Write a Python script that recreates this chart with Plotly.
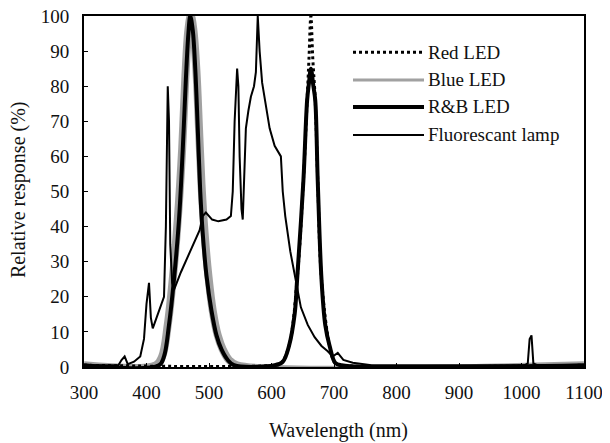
import plotly.graph_objects as go

# ---- data ----
lamp_x = [300, 355, 360, 365, 370, 380, 390, 396, 400, 404, 407, 410, 416, 422, 428, 431, 434, 436, 438, 441,
          444, 455, 465, 475, 485, 490, 495, 505, 515, 528, 535, 538, 541, 545, 547, 549, 552, 554, 556, 559,
          563, 567, 572, 575, 578, 581, 585, 590, 597, 605, 612, 615, 618, 622, 630, 639, 647, 658, 669, 680,
          690, 698, 706, 715, 730, 760, 1005, 1010, 1013, 1016, 1019, 1025, 1100]
lamp_y = [0.5, 0.5, 2, 3, 0.8, 1.5, 3, 8, 18, 24, 14, 11, 14, 17, 20, 40, 80, 70, 35, 24,
          22, 27, 31, 35, 39, 43, 44, 42, 41.5, 42, 43, 50, 70, 85, 80, 60, 45, 42, 55, 68,
          73, 77, 80, 84, 100, 90, 81, 76, 68, 63, 61, 60, 50, 43, 33, 24, 17, 12, 8.5, 6,
          4.5, 3, 4, 2, 1.2, 0.5, 0.5, 1, 8, 9, 1, 0.5, 0.5]

blue_x = [300, 415, 425, 434, 442, 450, 457, 462, 467, 471, 475, 480, 484, 488, 493, 499, 506, 514, 522, 532, 545, 1100]
blue_y = [0.5, 0.5, 3, 12, 25, 42, 62, 82, 96, 100, 96, 84, 68, 52, 38, 26, 16, 9, 5, 2, 0.5, 0.5]

rb_x = [300, 420, 428, 436, 444, 452, 458, 463, 467, 470, 474, 478, 482, 486, 490, 496, 504, 512, 520, 530, 540,
        605, 618, 628, 637, 641, 651, 657, 660, 663, 667, 670, 674, 680, 686, 693, 702, 712, 1100]
rb_y = [0.5, 0.5, 3, 12, 25, 42, 62, 82, 95, 100, 96, 85, 68, 50, 38, 26, 16, 9, 5, 2, 0.5,
        0.5, 1.5, 6, 15, 25, 53, 76, 81, 85, 80, 76, 53, 25, 12, 6, 1.2, 0.5, 0.5]

red_x = [300, 605, 615, 628, 641, 651, 657, 660, 663, 666, 670, 674, 680, 693, 702, 712, 1100]
red_y = [0.5, 0.5, 1, 6, 25, 53, 76, 88, 100, 88, 76, 53, 25, 6, 1, 0.5, 0.5]

legend_names = ["Red LED", "Blue LED", "R&B LED", "Fluorescant lamp"]
x_ticks = [300, 400, 500, 600, 700, 800, 900, 1000, 1100]
y_ticks = [0, 10, 20, 30, 40, 50, 60, 70, 80, 90, 100]

FONT = "Liberation Serif"
TXT = "#111111"
BLUE_COL = "rgba(130,130,130,0.75)"

fig = go.Figure()
fig.add_trace(go.Scatter(x=blue_x, y=blue_y, mode="lines", name=legend_names[1],
                         line=dict(color=BLUE_COL, width=8), line_shape="spline"))
fig.add_trace(go.Scatter(x=red_x, y=red_y, mode="lines", name=legend_names[0],
                         line=dict(color="black", width=3, dash="dot"), line_shape="spline"))
fig.add_trace(go.Scatter(x=rb_x, y=rb_y, mode="lines", name=legend_names[2],
                         line=dict(color="black", width=4), line_shape="spline"))
fig.add_trace(go.Scatter(x=lamp_x, y=lamp_y, mode="lines", name=legend_names[3],
                         line=dict(color="black", width=2)))

# manual legend (long line samples like the reference)
leg_rows = [0.897, 0.818, 0.741, 0.661]
leg_styles = [dict(color="black", width=3, dash="dot"),
              dict(color=BLUE_COL, width=3),
              dict(color="black", width=4),
              dict(color="black", width=2)]
for name, yy, st in zip(legend_names, leg_rows, leg_styles):
    fig.add_shape(type="line", xref="paper", yref="paper", x0=0.538, x1=0.680, y0=yy, y1=yy, line=st)
    fig.add_annotation(xref="paper", yref="paper", x=0.684, y=yy, text=name, showarrow=False,
                       xanchor="left", yanchor="middle", font=dict(family=FONT, size=19, color=TXT))

# axis titles
fig.add_annotation(xref="paper", yref="paper", x=-0.132, y=0.504, text="Relative response (%)",
                   textangle=-90, showarrow=False, xanchor="center", yanchor="middle",
                   font=dict(family=FONT, size=20, color=TXT))
fig.add_annotation(xref="paper", yref="paper", x=0.508, y=-0.182, text="Wavelength (nm)",
                   showarrow=False, xanchor="center", yanchor="middle",
                   font=dict(family=FONT, size=20, color=TXT))

# the page adds an 8px body margin, so the figure is 8px smaller and margins shifted
fig.update_layout(
    width=602, height=435,
    margin=dict(l=76, r=26, t=8, b=76),
    paper_bgcolor="white", plot_bgcolor="white",
    showlegend=False,
    font=dict(family=FONT, size=19, color=TXT),
)
fig.update_xaxes(range=[300, 1100], tickvals=x_ticks, showgrid=False, zeroline=False,
                 showline=True, linecolor="black", linewidth=2, mirror=True, automargin=False,
                 ticks="inside", ticklen=4, tickcolor="black", ticklabelstandoff=7,
                 ticklabeloverflow="allow")
fig.update_yaxes(range=[0, 100], tickvals=y_ticks, showgrid=False, zeroline=False,
                 showline=True, linecolor="black", linewidth=2, mirror=True, automargin=False,
                 ticks="inside", ticklen=4, tickcolor="black", ticklabelstandoff=9,
                 ticklabeloverflow="allow")

fig.write_html("out.html")
